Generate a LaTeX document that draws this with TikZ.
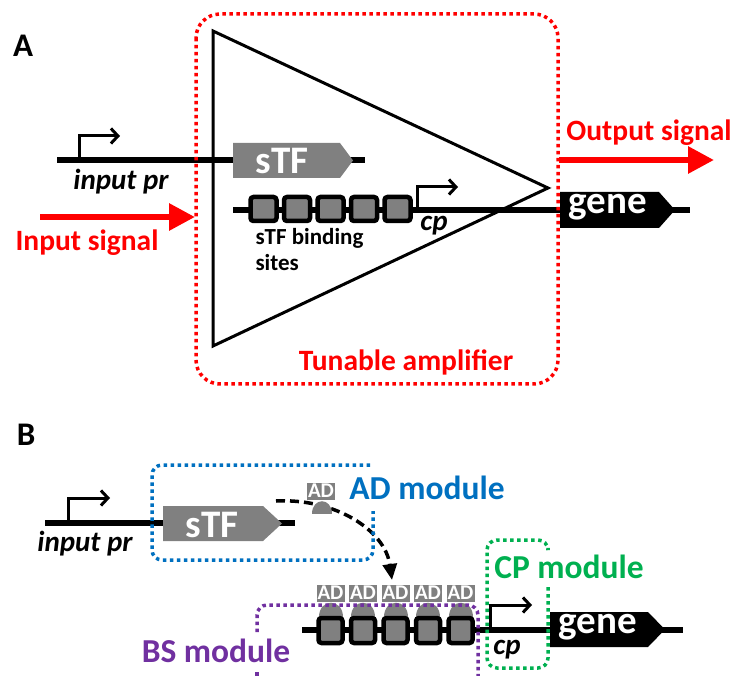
\documentclass[tikz,border=0pt]{standalone}
\usepackage{fontspec}
\setmainfont{Carlito}
\usetikzlibrary{arrows.meta}

\definecolor{sigred}{RGB}{255,0,0}
\definecolor{adblue}{RGB}{0,112,192}
\definecolor{cpgreen}{RGB}{0,176,80}
\definecolor{bspurple}{RGB}{112,48,160}
\definecolor{partgray}{RGB}{128,128,128}

\tikzset{
    dna/.style={line width=6pt},
    prom/.style={line width=3pt, -{Straight Barb[length=7pt,width=15pt]}},
    site/.style={draw=black, fill=partgray, line width=4.5pt, rounded corners=3pt},
    modbox/.style={line width=3.5pt, dash pattern=on 3.5pt off 3.5pt},
    sigarrow/.style={sigred, line width=6pt, -{Triangle[length=26pt,width=26pt]}},
    panel/.style={font=\bfseries\fontsize{33}{33}\selectfont},
    siglbl/.style={text=sigred, font=\bfseries\fontsize{29.5}{29.5}\selectfont},
    partlbl/.style={text=white, font=\bfseries\fontsize{39}{39}\selectfont},
    itlbl/.style={font=\bfseries\itshape\fontsize{29}{29}\selectfont},
    modlbl/.style={font=\bfseries\fontsize{33.5}{33.5}\selectfont},
    adtag/.style={fill=partgray, text=white, font=\bfseries\fontsize{21}{21}\selectfont,
        inner sep=0pt, minimum width=28pt, minimum height=17pt}
}

\begin{document}
\begin{tikzpicture}[x=1pt,y=-1pt]

    \clip (0,0) rectangle (734,676);

    % ---------- A ----------
    \node[panel] (labA) at (23,46) {A};

    \draw[dna] (57,160) -- (365,160);
    \draw[dna] (233,210) -- (690,210);

    \draw[prom] (79,160) -- (79,136) -- (120,136);
    \node[itlbl] (inprA) at (121,182) {input pr};

    \fill[partgray] (233,143) -- (340,143) -- (353,160.5) -- (340,178) -- (233,178) -- cycle;
    \node[partlbl] (stfA) at (282,161) {sTF};

    \foreach \i in {0,...,4}
        \draw[site] ({250.5+33.5*\i},197) rectangle ({276.5+33.5*\i},221);
    \node[font=\bfseries\fontsize{23}{26}\selectfont, align=left, anchor=base west] (bsA) at (252,271) {sTF binding\\sites};

    \draw[prom] (417,210) -- (417,187) -- (458,187);
    \node[itlbl] (cpA) at (434,226) {cp};

    \fill[black] (560,192) -- (659,192) -- (675,210) -- (659,228) -- (560,228) -- cycle;
    \node[partlbl] (geneA) at (608,207) {gene};

    \draw[line width=3pt, line join=miter] (213,31) -- (548,188) -- (213,346) -- cycle;

    \draw[modbox, sigred, rounded corners=24pt] (196,14) rectangle (558,384);
    \node[siglbl] (ampA) at (406,362) {Tunable amplifier};

    \coordinate (inA0) at (40,217);
    \coordinate (inA1) at (195,217);
    \draw[sigarrow] (inA0) -- (inA1);
    \node[siglbl] (inlblA) at (87,243) {Input signal};

    \coordinate (outA0) at (559,160);
    \coordinate (outA1) at (714,160);
    \draw[sigarrow] (outA0) -- (outA1);
    \node[siglbl] (outlblA) at (649,133) {Output signal};

    % ---------- B ----------
    \node[panel] (labB) at (26,435) {B};

    \draw[dna] (45,523) -- (295,523);
    \draw[dna] (302,630) -- (683,630);

    \draw[prom] (68,523) -- (68,498) -- (110,498);
    \node[itlbl] (inprB) at (85,544) {input pr};

    \fill[partgray] (163,506) -- (263,506) -- (282,523.5) -- (263,541) -- (163,541) -- cycle;
    \node[partlbl] (stfB) at (212,525) {sTF};

    \coordinate (adfrom) at (276,501);
    \coordinate (adto) at (392,580);
    \draw[line width=3.5pt, dash pattern=on 9pt off 5pt, -{Triangle[length=16pt,width=14pt]}]
        (adfrom) .. controls (335,498) and (385,530) .. (adto);

    \fill[partgray] (312,514) .. controls (312,497) and (332,497) .. (332,514) -- cycle;
    \node[adtag] (adfree) at (321,491) {AD};

    \foreach \i in {0,...,4} {
        \fill[partgray] ({318.5+32.5*\i},617) .. controls ({318.5+32.5*\i},598) and ({342.5+32.5*\i},598) .. ({342.5+32.5*\i},617) -- cycle;
        \node[adtag] (ad\i) at ({330.5+32.5*\i},593) {AD};
    }
    \foreach \i in {0,...,4}
        \draw[site] ({318.5+32.5*\i},618) rectangle ({342.5+32.5*\i},643);

    \draw[prom] (490,630) -- (490,605) -- (532,605);
    \node[itlbl] (cpB) at (507,650) {cp};

    \fill[black] (550,612) -- (648,612) -- (665,629.5) -- (648,647) -- (550,647) -- cycle;
    \node[partlbl] (geneB) at (598,627) {gene};

    \draw[modbox, adblue, rounded corners=10pt] (370,465) -- (152,465) -- (152,560) -- (373,560) -- (373,511);
    \node[modlbl, text=adblue] (admod) at (427,488) {AD module};

    \draw[modbox, bspurple, rounded corners=10pt] (257,632) -- (257,605) -- (478,605) -- (478,700);
    \draw[modbox, bspurple] (257,672) -- (257,700);
    \node[modlbl, text=bspurple] (bsmod) at (216,651) {BS module};

    \draw[modbox, cpgreen, rounded corners=10pt] (548,587) -- (548,668) -- (487,668) -- (487,540) -- (548,540) -- (548,547);
    \node[modlbl, text=cpgreen] (cpmod) at (569,567) {CP module};

\end{tikzpicture}
\end{document}
